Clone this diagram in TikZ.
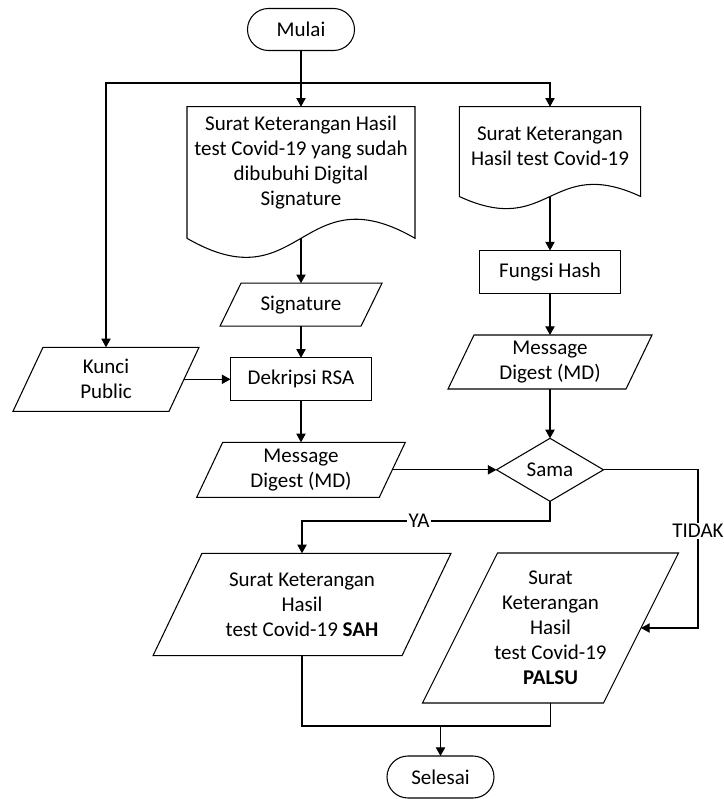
\documentclass[tikz,border=0pt]{standalone}
\usepackage{fontspec}
\setmainfont{Carlito}
\usetikzlibrary{arrows.meta,shapes.geometric}

% parallelogram outline around a rectangular node: #1 node, #2 half slant (px)
\newcommand\paraoutline[2]{%
  \draw[shapeline] ([xshift=#2*0.75pt]#1.north west) -- ([xshift=#2*0.75pt]#1.north east)
    -- ([xshift=-#2*0.75pt]#1.south east) -- ([xshift=-#2*0.75pt]#1.south west) -- cycle;}
% document outline: straight top and sides, wavy bottom; #2 wave control offset (px)
\newcommand\docoutline[2]{%
  \draw[shapeline] (#1.south west) -- (#1.north west) -- (#1.north east) -- (#1.south east)
    .. controls ([yshift=#2*0.75pt]#1.south) and ([yshift=-#2*0.75pt]#1.south) .. (#1.south west);}

\begin{document}
\begin{tikzpicture}[x=0.75pt,y=-0.75pt,
  every node/.style={font=\fontsize{15.75}{18.75}\selectfont},
  shapeline/.style={line width=0.8pt, line join=miter},
  base/.style={inner sep=0pt, outer sep=0pt, align=center},
  proc/.style={base, draw, line width=0.8pt},
  term/.style={base, draw, line width=0.8pt, rounded corners=15.75pt,
    minimum width=107*0.75pt, minimum height=42*0.75pt},
  decision/.style={base, draw, diamond, line width=0.8pt,
    minimum width=107*0.75pt, minimum height=63*0.75pt},
  arr/.style={line width=0.8pt, -{Triangle[length=6.5pt,width=7pt]}},
  conn/.style={line width=0.8pt},
  lbl/.style={fill=white, inner sep=1pt}]

\fill[white] (0,0) rectangle (724,799);
\useasboundingbox (0,0) rectangle (724,799);

% start / end
\node[term] (mulai) at (301,29.5) {Mulai};
\node[term] (selesai) at (440.5,777) {Selesai};

% documents
\node[base, minimum width=228*0.75pt, minimum height=131.6*0.75pt] (doc1) at (301,172.5) {};
\docoutline{doc1}{66}
\node[base] (doc1t) at (301,163) {Surat Keterangan Hasil\\test Covid-19 yang sudah\\dibubuhi Digital\\Signature};

\node[base, minimum width=181.4*0.75pt, minimum height=89.8*0.75pt] (doc2) at (550,151.6) {};
\docoutline{doc2}{42}
\node[base] (doc2t) at (550,146) {Surat Keterangan\\Hasil test Covid-19};

% processes
\node[proc, minimum width=141*0.75pt, minimum height=43*0.75pt] (fungsi) at (550,272) {Fungsi Hash};
\node[proc, minimum width=141*0.75pt, minimum height=43*0.75pt] (dekripsi) at (301,379.3) {Dekripsi RSA};

% data (parallelograms)
\node[base, minimum width=141*0.75pt, minimum height=43*0.75pt] (signature) at (301,304.7) {Signature};
\paraoutline{signature}{10.5}
\node[base, minimum width=156*0.75pt, minimum height=64*0.75pt] (kunci) at (106,379.3) {Kunci\\Public};
\paraoutline{kunci}{15}
\node[base, minimum width=182.6*0.75pt, minimum height=55*0.75pt] (mdl) at (301,469.8) {Message\\Digest (MD)};
\paraoutline{mdl}{13}
\node[base, minimum width=178*0.75pt, minimum height=54*0.75pt] (mdr) at (550,362) {Message\\Digest (MD)};
\paraoutline{mdr}{13}
\node[base, minimum width=249*0.75pt, minimum height=102.4*0.75pt] (sah) at (302,604.5) {Surat Keterangan\\Hasil\\test Covid-19 \textbf{SAH}};
\paraoutline{sah}{24.5}
\node[base, minimum width=181*0.75pt, minimum height=150*0.75pt] (palsu) at (550.5,628) {Surat\\Keterangan\\Hasil\\test Covid-19\\\textbf{PALSU}};
\paraoutline{palsu}{37.5}

% decision
\node[decision] (sama) at (550,469.8) {Sama};

% connectors
\coordinate (split) at (301,83);
\draw[conn] (mulai.south) -- (split);
\draw[arr] (split) -- (doc1.north);
\draw[arr] (split) -| (kunci.north);
\draw[arr] (split) -| (doc2.north);
\draw[arr] (doc1.south) -- (signature.north);
\draw[arr] (signature.south) -- (dekripsi.north);
\draw[arr] (kunci.east) -- (dekripsi.west);
\draw[arr] (dekripsi.south) -- (mdl.north);
\draw[arr] (mdl.east) -- (sama.west);
\draw[arr] (doc2.south) -- (fungsi.north);
\draw[arr] (fungsi.south) -- (mdr.north);
\draw[arr] (mdr.south) -- (sama.north);

\coordinate (yaturn) at (550,521);
\draw[arr] (sama.south) -- (yaturn) -| (sah.north);
\node[lbl] (ya) at (419,521) {YA};

\coordinate (tidakturn) at (698,469.8);
\draw[arr] (sama.east) -- (tidakturn) |- (palsu.east);
\node[lbl] (tidak) at (698,531) {TIDAK};

\coordinate (merge) at (440.5,726);
\draw[conn] (sah.south) |- (merge);
\draw[conn] (palsu.south) |- (merge);
\draw[arr] (merge) -- (selesai.north);
\end{tikzpicture}
\end{document}
